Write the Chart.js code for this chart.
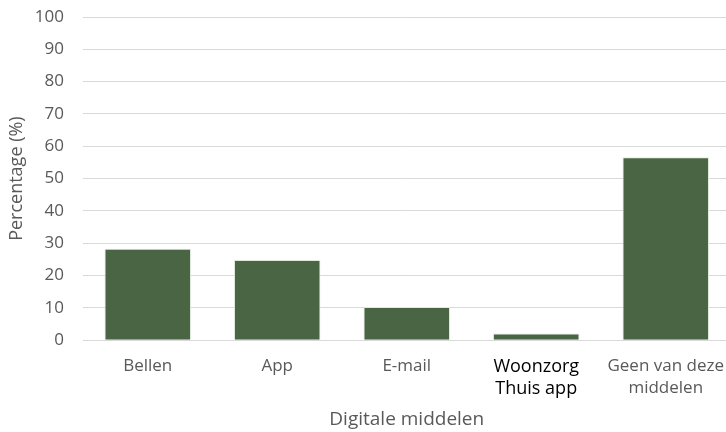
<!DOCTYPE html>
<html>
<head>
<meta charset="utf-8">
<script src="https://cdn.jsdelivr.net/npm/chart.js@4"></script>
<style>
  html, body { margin: 0; padding: 0; background: #fff; overflow: hidden; }
  #wrap { width: 731px; height: 432px; }
</style>
</head>
<body>
<div id="wrap"><canvas id="grafico"></canvas></div>
<script>
const categorieen = [['Bellen'], ['App'], ['E-mail'], ['Woonzorg', 'Thuis app'], ['Geen van deze', 'middelen']];
const percentages = [28.3, 24.8, 10.3, 2.1, 56.6];
const yTicks = [0, 10, 20, 30, 40, 50, 60, 70, 80, 90, 100];

const ctx = document.getElementById('grafico').getContext('2d');

new Chart(ctx, {
  type: 'bar',
  data: {
    labels: categorieen,
    datasets: [{
      label: 'Percentage',
      data: percentages,
      backgroundColor: '#4a6543',
      borderColor: '#dfe8dc',
      borderWidth: 1,
      categoryPercentage: 0.668,
      barPercentage: 1
    }]
  },
  options: {
    animation: false,
    responsive: true,
    maintainAspectRatio: false,
    layout: { padding: { top: 0, right: 0, bottom: 1, left: 2 } },
    plugins: {
      legend: { display: false },
      tooltip: { enabled: false }
    },
    scales: {
      x: {
        grid: { display: false },
        border: { display: false },
        ticks: {
          padding: 7,
          maxRotation: 0,
          color: (c) => c.index === 3 ? '#000000' : '#595959',
          font: (c) => c.index === 3
            ? { family: 'Open Sans', size: 18, lineHeight: 1.25 }
            : { family: 'Open Sans', size: 17, lineHeight: 1.3 }
        },
        title: {
          display: true,
          text: 'Digitale middelen',
          color: '#595959',
          font: { family: 'Open Sans', size: 19 },
          padding: { top: 1, bottom: 0 }
        }
      },
      y: {
        min: 0,
        max: 100,
        afterBuildTicks: (axis) => { axis.ticks = yTicks.map(v => ({ value: v })); },
        afterFit: (axis) => { axis.paddingTop = 17; axis.width = 81; },
        grid: { color: '#d9d9d9', lineWidth: 1, drawTicks: false },
        border: { display: false },
        ticks: {
          padding: 19,
          color: '#595959',
          font: { family: 'Open Sans', size: 17 }
        },
        title: {
          display: true,
          text: 'Percentage (%)',
          color: '#595959',
          font: { family: 'Open Sans', size: 18 },
          padding: { top: 4, bottom: 0 }
        }
      }
    }
  }
});
</script>
</body>
</html>
